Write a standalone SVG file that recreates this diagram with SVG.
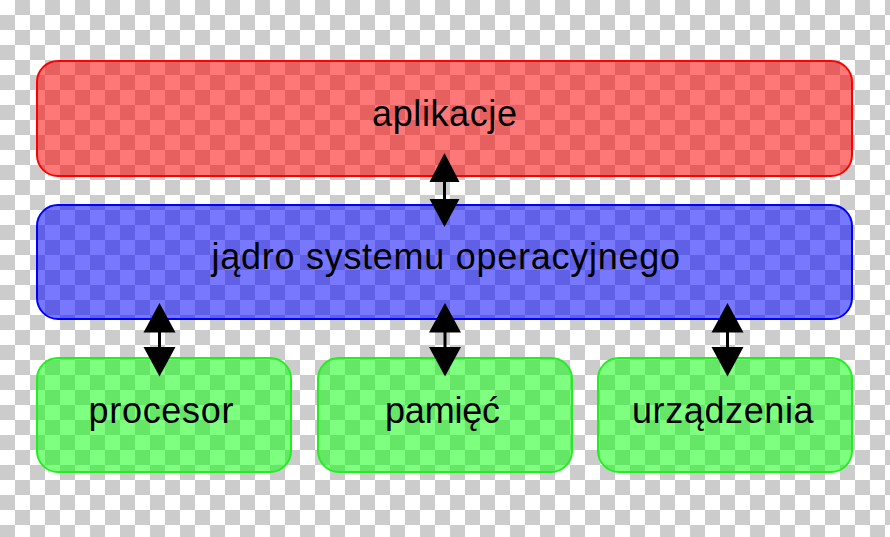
<svg xmlns="http://www.w3.org/2000/svg" width="890" height="537" viewBox="0 0 890 537">
  <defs>
    <pattern id="checker" width="30" height="30" patternUnits="userSpaceOnUse">
      <rect width="30" height="30" fill="#ffffff"/>
      <rect x="15" y="0" width="15" height="15" fill="#cccccc"/>
      <rect x="0" y="15" width="15" height="15" fill="#cccccc"/>
    </pattern>
  </defs>
  <style>
    .box { stroke-width: 2; }
    .red { fill: #ff0000; fill-opacity: 0.53; stroke: #ff0000; }
    .blue { fill: #0000ff; fill-opacity: 0.53; stroke: #0000ff; }
    .green { fill: #00ff00; fill-opacity: 0.5; stroke: #22ee22; }
    .label { font-family: "Liberation Sans", Arial, sans-serif; font-size: 36px; fill: #000000; }
    .shaft { stroke: #000000; stroke-width: 3; fill: none; }
    .head { fill: #000000; }
  </style>
  <rect width="890" height="537" fill="url(#checker)"/>

  <g id="aplikacje">
    <rect class="box red" x="37" y="61" width="815" height="115" rx="21" ry="21"/>
    <text class="label" x="372" y="125.5" textLength="145" lengthAdjust="spacing">aplikacje</text>
  </g>

  <g id="jadro">
    <rect class="box blue" x="37" y="205" width="815" height="114" rx="21" ry="21"/>
    <text class="label" x="211.5" y="269" textLength="468.5" lengthAdjust="spacing">jądro systemu operacyjnego</text>
  </g>

  <g id="procesor">
    <rect class="box green" x="37" y="358" width="254" height="114" rx="21" ry="21"/>
    <text class="label" x="88.5" y="422.5" textLength="145" lengthAdjust="spacing">procesor</text>
  </g>

  <g id="pamiec">
    <rect class="box green" x="318" y="358" width="254" height="114" rx="21" ry="21"/>
    <text class="label" x="385" y="422.5" textLength="115" lengthAdjust="spacing">pamięć</text>
  </g>

  <g id="urzadzenia">
    <rect class="box green" x="598" y="358" width="254" height="114" rx="21" ry="21"/>
    <text class="label" x="632" y="422.5" textLength="181.5" lengthAdjust="spacing">urządzenia</text>
  </g>

  <g id="connectors">
    <g id="c-apl-jadro">
      <line class="shaft" x1="444.5" y1="180" x2="444.5" y2="201"/>
      <polygon class="head" points="444.5,153 429.5,182 459.5,182"/>
      <polygon class="head" points="444.5,227 429.5,199 459.5,199"/>
    </g>
    <g id="c-jadro-procesor">
      <line class="shaft" x1="159.5" y1="330" x2="159.5" y2="349"/>
      <polygon class="head" points="159.5,303 143.5,332.5 175.5,332.5"/>
      <polygon class="head" points="159.5,376.5 143.5,347 175.5,347"/>
    </g>
    <g id="c-jadro-pamiec">
      <line class="shaft" x1="445" y1="330" x2="445" y2="349"/>
      <polygon class="head" points="445,303 429,332.5 461,332.5"/>
      <polygon class="head" points="445,376.5 429,347 461,347"/>
    </g>
    <g id="c-jadro-urzadzenia">
      <line class="shaft" x1="727.5" y1="330" x2="727.5" y2="349"/>
      <polygon class="head" points="727.5,303 711.5,332.5 743.5,332.5"/>
      <polygon class="head" points="727.5,376.5 711.5,347 743.5,347"/>
    </g>
  </g>
</svg>
